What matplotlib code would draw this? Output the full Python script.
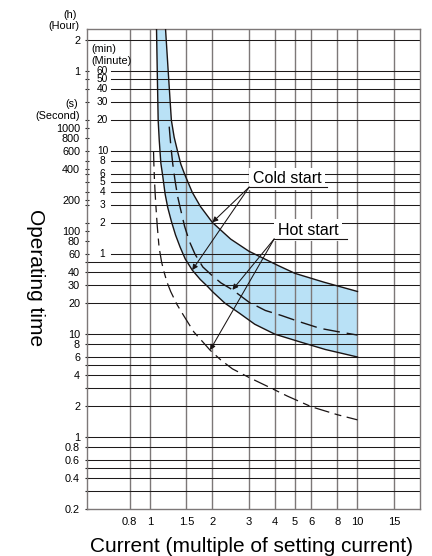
import numpy as np
import matplotlib
matplotlib.use('Agg')
import matplotlib.pyplot as plt
from matplotlib.ticker import NullFormatter, FixedLocator

plt.rcParams['font.family'] = ['Liberation Sans', 'DejaVu Sans']
plt.rcParams['lines.scale_dashes'] = False

# ---------------- data (x: multiple of setting current, t: seconds) ----------------
cold_upper_x = [1.19, 1.225, 1.27, 1.31, 1.36, 1.41, 1.47, 1.6, 1.75, 2.0, 2.45, 3.0, 4.1, 5.0, 6.9, 10]
cold_upper_t = [9350, 3700, 1200, 820, 600, 450, 360, 240, 175, 122, 84, 64, 47, 39, 32, 26]

cold_lower_x = [1.077, 1.086, 1.097, 1.11, 1.13, 1.155, 1.185, 1.22, 1.27, 1.33, 1.4, 1.48,
                1.6, 1.75, 1.9, 2.0, 2.3, 2.7, 3.2, 4.0, 5.3, 7.0, 10]
cold_lower_t = [9350, 3600, 1200, 770, 460, 340, 230, 170, 125, 92, 70, 54,
                42, 34, 29, 26, 20, 16, 12.5, 10, 8.4, 7.1, 6.0]

hot_upper_x = [1.24, 1.25, 1.265, 1.29, 1.32, 1.36, 1.41, 1.47, 1.55, 1.65, 1.8, 2.0,
               2.2, 2.5, 3.0, 3.6, 4.3, 5.2, 6.6, 8.0, 10]
hot_upper_t = [1040, 850, 650, 450, 320, 220, 160, 112, 80, 60, 45, 37,
               31.5, 27, 20.5, 17, 15.2, 13.3, 11.4, 10.6, 9.8]

hot_lower_x = [1.042, 1.046, 1.052, 1.06, 1.07, 1.085, 1.108, 1.14, 1.172, 1.21, 1.26, 1.35,
               1.46, 1.63, 1.8, 1.95, 2.2, 2.5, 3.0, 3.7, 4.6, 6.0, 8.0, 10]
hot_lower_t = [600, 450, 330, 240, 175, 115, 70, 50, 40, 32, 26, 19.5,
               15, 10.5, 8.4, 7.0, 5.6, 4.6, 3.8, 3.1, 2.5, 1.97, 1.65, 1.47]

x_ticks = [0.8, 1, 1.5, 2, 3, 4, 5, 6, 8, 10, 15]
x_tick_labels = ['0.8', '1', '1.5', '2', '3', '4', '5', '6', '8', '10', '15']

sec_ticks = [7200, 3600, 1000, 800, 600, 400, 200, 100, 80, 60, 40, 30, 20, 10, 8, 6, 4, 2,
             1, 0.8, 0.6, 0.4, 0.2]
sec_tick_labels = ['2', '1', '1000', '800', '600', '400', '200', '100', '80', '60', '40', '30',
                   '20', '10', '8', '6', '4', '2', '1', '0.8', '0.6', '0.4', '0.2']

minute_values = [60, 50, 40, 30, 20, 10, 8, 6, 5, 4, 3, 2, 1]
minute_labels = ['60', '50', '40', '30', '20', '10', '8', '6', '5', '4', '3', '2', '1']

sec_grid = [7200, 50, 40, 30, 20, 10, 8, 6, 5, 4, 3, 2, 1, 0.8, 0.6, 0.5, 0.4, 0.3]

# ---------------- figure ----------------
W, H = 432, 556
fig = plt.figure(figsize=(W / 100, H / 100), dpi=100)
ax = fig.add_axes([87.3 / W, 1 - 509 / H, (420 - 87.3) / W, (509 - 28.5) / H])
ax.set_xscale('log')
ax.set_yscale('log')
ax.set_xlim(0.5, 20)
ax.set_ylim(0.2, 9350)

VCOL = '#7d7878'
HCOL = '#1e1a1a'
BLUE = '#b9e1f6'

# fill between cold curves
poly_x = np.concatenate([cold_upper_x, cold_lower_x[::-1]])
poly_t = np.concatenate([cold_upper_t, cold_lower_t[::-1]])
ax.fill(poly_x, poly_t, color=BLUE, lw=0, zorder=1)

# grid lines
for xv in x_ticks:
    ax.axvline(xv, color=VCOL, lw=1.0, zorder=2)
for s in sec_grid:
    ax.axhline(s, color=HCOL, lw=0.75, zorder=2)
min_start = (111 - 87.3) / (420 - 87.3)
for m in minute_values:
    ax.axhline(m * 60, xmin=min_start, color=HCOL, lw=0.75, zorder=2)

# curves
ax.plot(cold_upper_x, cold_upper_t, color='#1a1414', lw=1.0, zorder=3)
ax.plot(cold_lower_x, cold_lower_t, color='#1a1414', lw=1.0, zorder=3)
ax.plot(hot_upper_x, hot_upper_t, color='#1a1414', lw=1.0, zorder=3, dashes=(12, 5))
ax.plot(hot_lower_x, hot_lower_t, color='#1a1414', lw=0.9, zorder=3, dashes=(11, 4, 5, 4))

# ticks
ax.yaxis.set_major_locator(FixedLocator(sec_ticks))
ax.set_yticklabels(sec_tick_labels)
minor_y = [m * 60 for m in minute_values if m * 60 not in sec_ticks] + \
          [s for s in sec_grid if s not in sec_ticks]
ax.yaxis.set_minor_locator(FixedLocator(minor_y))
ax.yaxis.set_minor_formatter(NullFormatter())
ax.xaxis.set_major_locator(FixedLocator(x_ticks))
ax.set_xticklabels(x_tick_labels)
ax.xaxis.set_minor_locator(FixedLocator([]))
ax.xaxis.set_minor_formatter(NullFormatter())
ax.tick_params(axis='y', which='both', direction='inout', length=3.5, width=0.8,
               color='#222222', labelsize=7.8, pad=3.5)
ax.tick_params(axis='x', which='both', length=0, labelsize=8, pad=6)
for sp in ax.spines.values():
    sp.set_color(VCOL)
    sp.set_linewidth(1.0)
    sp.set_zorder(2.5)

# minute labels
tr = ax.get_yaxis_transform()
mx = (102.5 - 87.3) / (420 - 87.3)
for m, lab in zip(minute_values, minute_labels):
    ax.text(mx, m * 60, lab, transform=tr, ha='center', va='center', fontsize=7.3,
            linespacing=0.9, zorder=4)

# unit labels
fig.text(77 / W, 1 - 15 / H, '(h)', ha='right', va='center', fontsize=7.8)
fig.text(79.5 / W, 1 - 26 / H, '(Hour)', ha='right', va='center', fontsize=7.8)
fig.text(78.5 / W, 1 - 104 / H, '(s)', ha='right', va='center', fontsize=7.8)
fig.text(79.5 / W, 1 - 116 / H, '(Second)', ha='right', va='center', fontsize=7.8)
fig.text(91.7 / W, 1 - 49.3 / H, '(min)', ha='left', va='center', fontsize=7.8)
fig.text(91.7 / W, 1 - 60.7 / H, '(Minute)', ha='left', va='center', fontsize=7.8)

# axis titles
fig.text(35.5 / W, 1 - 277.5 / H, 'Operating time', rotation=-90, ha='center', va='center',
         fontsize=15)
fig.text(251 / W, 1 - 546 / H, 'Current (multiple of setting current)', ha='center',
         va='center', fontsize=15)

# annotations
def label(text, origin, end_x, tips):
    ox, oy = origin
    ax.annotate(text, xy=origin, xytext=(3.5, 4), textcoords='offset pixels',
                ha='left', va='baseline', fontsize=11.5, zorder=6,
                bbox=dict(boxstyle='square,pad=0.22', fc='white', ec='none'))
    ax.plot([ox, end_x], [oy, oy], color='#1a1414', lw=0.8, zorder=7)
    for tip in tips:
        ax.annotate('', xy=tip, xytext=origin, zorder=7,
                    arrowprops=dict(arrowstyle='-|>', lw=0.75, color='#1a1414',
                                    mutation_scale=8, shrinkA=0, shrinkB=0))

label('Cold start', (3.01, 269), 7.12,
      [(cold_upper_x[9], cold_upper_t[9]), (cold_lower_x[12], cold_lower_t[12])])
label('Hot start', (3.97, 84.2), 8.9,
      [(hot_upper_x[13], hot_upper_t[13]), (hot_lower_x[15], hot_lower_t[15])])

fig.savefig('out.png', dpi=100)
